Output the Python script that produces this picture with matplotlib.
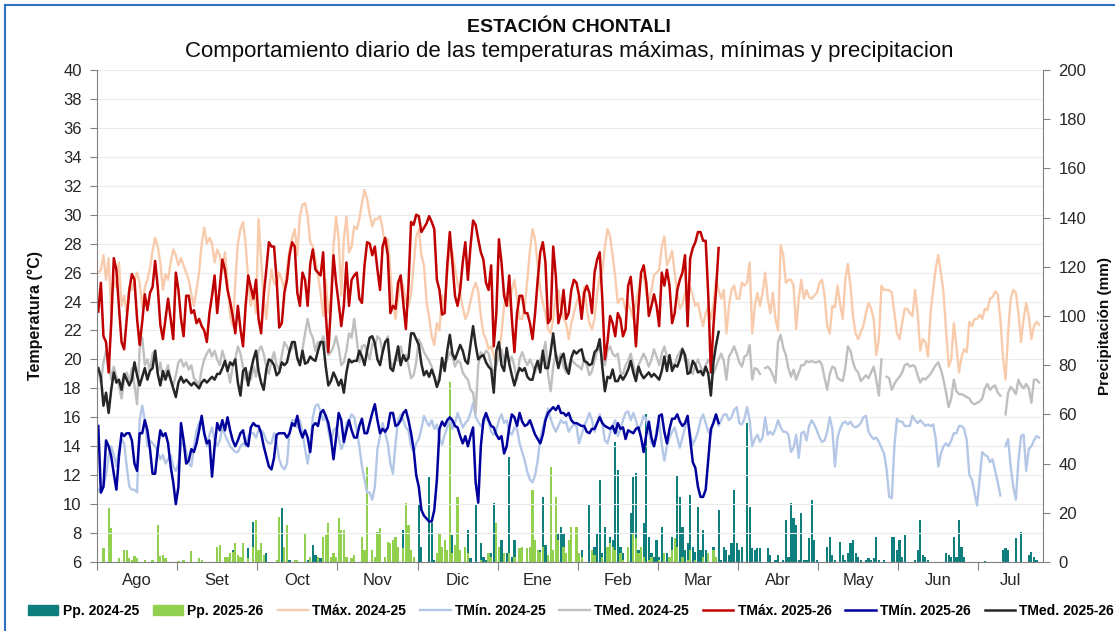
import numpy as np
import matplotlib
matplotlib.use('Agg')
import matplotlib.pyplot as plt
from matplotlib.patches import Patch, Rectangle
from matplotlib.lines import Line2D

plt.rcParams['font.family'] = ['Liberation Sans', 'DejaVu Sans']

nan = np.nan

meses = ['Ago', 'Set', 'Oct', 'Nov', 'Dic', 'Ene', 'Feb', 'Mar', 'Abr', 'May', 'Jun', 'Jul']

# temperatura maxima 2024-25 (una fila por mes del eje)
tmax_2425 = [
    26.0, 26.2, 27.2, 25.5, 27.0, 23.2, 25.5, 25.0, 26.7, 23.7, 24.4, 23.2, 25.0, 24.8, 25.5, 26.0, 25.3, 23.6, 25.0, 25.5, 26.3, 27.5, 28.4, 27.8, 26.7, 24.8, 25.9, 25.5, 26.7, 27.6, 27.2,
    26.5, 27.0, 26.5, 26.0, 25.5, 24.5, 23.7, 24.8, 26.0, 28.0, 29.1, 28.0, 28.4, 28.0, 26.7, 27.6, 27.2, 26.0, 27.4, 25.5, 23.0, 22.3, 25.3, 28.0, 29.0, 29.5, 28.0, 25.5, 23.7, 24.8, 23.2,
    29.7, 26.9, 24.2, 22.8, 24.8, 26.2, 25.3, 25.1, 26.0, 25.5, 24.8, 26.2, 27.6, 28.4, 29.0, 27.2, 29.9, 30.7, 30.8, 29.9, 28.1, 27.8, 26.9, 25.8, 24.6, 23.0, 25.5, 23.2, 24.2, 27.8, 29.9,
    28.3, 24.4, 28.3, 29.9, 27.4, 27.8, 29.2, 29.0, 29.7, 30.8, 31.7, 31.1, 30.0, 29.2, 29.7, 29.7, 29.9, 29.0, 27.8, 28.3, 26.0, 23.7, 22.8, 24.2, 25.5, 25.1, 23.9, 23.7, 24.5, 26.5, 28.5,
    29.0, 27.2, 26.5, 24.0, 22.9, 21.6, 21.0, 22.5, 22.0, 24.4, 23.7, 26.0, 27.6, 27.4, 26.3, 25.3, 24.6, 23.6, 22.8, 23.2, 24.0, 24.8, 25.3, 24.7, 23.0, 21.8, 21.4, 20.7, 20.9, 20.3, 19.6,
    20.5, 21.8, 23.7, 24.6, 23.7, 24.8, 25.5, 24.2, 22.8, 22.8, 23.7, 25.5, 27.5, 29.0, 28.3, 26.5, 24.8, 23.9, 23.2, 22.1, 21.8, 22.8, 24.4, 24.8, 23.7, 22.8, 22.5, 21.4, 22.5, 23.2, 23.9,
    24.4, 23.6, 25.0, 23.5, 22.5, 22.1, 22.8, 24.6, 25.7, 26.0, 27.8, 29.0, 28.5, 27.2, 25.7, 23.9, 24.2, 24.2, 23.4, 23.9, 23.4, 22.8, 23.9, 24.8, 25.6, 25.8, 24.6, 23.9, 24.8, 25.8, 26.0,
    26.2, 27.8, 28.5, 26.5, 26.9, 27.5, 26.0, 24.6, 23.5, 23.8, 24.6, 25.2, 25.0, 24.4, 23.7, 23.9, 23.0, 22.3, 23.2, 23.6, 22.8, 23.8, 25.5, 24.8, 24.2, 24.8, 21.8, 23.7, 24.8, 25.1, 24.2,
    24.2, 25.3, 25.1, 25.3, 26.7, 21.8, 23.7, 24.6, 23.7, 24.6, 26.0, 24.2, 23.2, 24.6, 22.8, 22.0, 27.9, 27.2, 25.3, 25.5, 25.5, 25.1, 22.1, 24.2, 25.5, 24.2, 24.8, 24.3, 24.2, 24.4, 24.6,
    25.3, 25.5, 24.4, 22.3, 21.8, 23.7, 23.6, 25.1, 23.8, 22.8, 25.5, 26.6, 25.1, 23.0, 21.8, 21.4, 21.9, 22.3, 23.2, 23.9, 23.5, 22.8, 20.3, 21.4, 25.1, 24.8, 24.8, 24.8, 24.6, 23.2, 21.8,
    21.4, 22.5, 23.5, 23.5, 23.2, 23.0, 24.8, 23.2, 20.6, 21.4, 21.2, 20.2, 23.2, 24.8, 26.3, 27.2, 26.0, 24.6, 22.1, 19.5, 20.0, 22.5, 20.9, 19.1, 20.2, 20.7, 20.5, 22.6, 22.3, 22.8, 22.8,
    23.1, 22.8, 23.5, 23.4, 24.2, 24.3, 24.7, 24.5, 22.8, 20.2, 18.6, 21.8, 24.2, 24.8, 24.6, 23.2, 21.2, 22.8, 23.9, 23.0, 21.4, 22.3, 22.6, 22.4,
]

tmin_2425 = [
    11.0, 10.8, 11.2, 12.0, 13.3, 14.0, 13.4, 12.6, 13.8, 14.5, 14.2, 12.6, 11.2, 11.0, 11.0, 10.8, 15.8, 16.8, 15.8, 14.0, 14.4, 14.2, 14.0, 13.6, 13.1, 13.4, 12.8, 13.1, 13.4, 12.6, 12.3,
    12.8, 14.0, 14.4, 13.6, 12.8, 12.6, 14.0, 15.1, 15.6, 15.8, 14.8, 14.0, 14.8, 15.3, 14.4, 14.0, 14.4, 15.3, 14.8, 14.4, 14.0, 13.8, 13.6, 13.6, 14.0, 14.2, 14.0, 14.7, 14.9, 14.9, 14.6,
    15.1, 15.1, 14.9, 14.4, 14.2, 14.2, 14.9, 14.2, 13.1, 12.6, 12.4, 12.8, 15.0, 15.8, 15.8, 15.3, 15.8, 14.9, 13.8, 12.8, 14.0, 16.0, 16.8, 16.9, 16.4, 15.8, 16.2, 15.1, 14.2, 15.1, 15.3,
    14.6, 13.8, 14.2, 15.6, 15.8, 16.2, 16.0, 15.1, 14.0, 12.6, 11.7, 10.8, 10.8, 10.3, 11.2, 13.8, 14.7, 15.6, 14.9, 14.2, 12.8, 12.1, 14.2, 15.8, 16.2, 15.8, 15.3, 15.1, 14.0, 13.6, 14.2,
    14.5, 15.2, 16.1, 15.7, 15.4, 15.8, 15.2, 15.5, 14.5, 14.1, 14.8, 15.3, 15.9, 15.2, 15.6, 16.3, 15.8, 15.3, 15.6, 15.8, 16.3, 17.0, 16.0, 15.7, 15.4, 15.6, 16.0, 15.7, 15.0, 14.8, 15.1,
    15.8, 16.2, 15.6, 15.8, 15.0, 14.8, 15.3, 15.2, 14.2, 13.6, 13.0, 12.2, 11.7, 11.5, 12.0, 13.0, 14.6, 15.3, 16.0, 16.6, 15.9, 15.4, 15.0, 15.4, 15.8, 15.6, 15.7, 15.0, 15.3, 15.5, 15.4,
    14.2, 14.8, 15.4, 15.8, 16.3, 15.8, 15.0, 15.6, 16.2, 15.6, 14.4, 14.2, 14.9, 15.4, 15.8, 14.7, 15.2, 15.8, 16.3, 16.4, 15.8, 16.3, 15.8, 15.1, 15.5, 16.1, 15.8, 15.0, 14.2, 14.0, 15.2,
    15.7, 14.1, 13.0, 14.0, 14.6, 15.0, 15.3, 14.6, 13.9, 14.6, 15.3, 15.8, 14.9, 14.1, 14.5, 15.0, 15.8, 16.2, 15.6, 15.0, 14.8, 15.8, 16.2, 15.4, 15.8, 16.2, 16.2, 15.8, 16.0, 16.5, 16.7,
    15.6, 15.5, 15.9, 16.7, 15.8, 14.0, 14.5, 14.8, 14.3, 14.6, 16.0, 14.8, 15.0, 14.8, 15.2, 15.8, 15.3, 15.0, 15.0, 14.8, 13.6, 13.9, 14.8, 13.2, 14.9, 15.0, 14.4, 15.4, 15.8, 15.5, 15.1,
    14.6, 14.3, 14.4, 15.0, 16.0, 15.2, 12.6, 14.6, 15.2, 15.6, 15.7, 15.5, 15.7, 15.4, 15.3, 15.4, 15.6, 16.0, 16.1, 15.0, 14.7, 14.5, 14.6, 14.3, 13.9, 13.5, 12.4, 10.5, 10.4, 14.0, 15.9,
    15.7, 15.7, 15.4, 15.4, 15.4, 16.1, 15.8, 15.6, 15.8, 15.6, 15.4, 15.5, 15.4, 15.5, 14.5, 12.6, 13.5, 14.0, 14.2, 14.0, 14.4, 14.9, 14.9, 15.4, 15.4, 15.2, 14.4, 12.0, 11.7, 10.8, 9.9,
    11.8, 13.6, 13.4, 13.3, 12.9, 13.1, 12.3, 11.5, 10.6, nan, 14.0, 14.5, 12.6, 11.2, 10.3, 13.0, 14.7, 14.8, 12.3, 13.8, 14.0, 14.4, 14.7, 14.6,
]

tmed_2425 = [
    19.1, 18.4, 19.8, 20.6, 20.0, 18.6, 19.5, 18.8, 18.2, 17.3, 18.6, 19.1, 18.4, 19.4, 18.2, 16.9, 20.7, 21.5, 19.6, 20.0, 19.2, 20.4, 20.6, 19.1, 19.8, 18.6, 19.1, 19.6, 18.6, 18.2, 18.9,
    19.8, 20.0, 19.5, 19.8, 19.3, 19.6, 18.7, 18.5, 18.2, 19.3, 20.0, 20.4, 20.7, 20.2, 20.6, 20.0, 19.6, 20.6, 20.0, 19.3, 18.4, 19.5, 20.0, 20.9, 20.4, 19.5, 18.6, 19.1, 18.6, 19.5, 18.8,
    20.6, 20.9, 20.4, 19.5, 19.0, 19.9, 20.5, 19.6, 19.3, 20.3, 21.2, 20.9, 20.5, 20.8, 21.1, 20.0, 19.6, 20.7, 21.8, 22.8, 21.9, 21.5, 20.6, 21.2, 21.0, 21.6, 21.0, 20.3, 20.5, 20.9, 21.6,
    20.8, 19.6, 19.8, 20.6, 21.8, 21.5, 22.8, 21.4, 19.8, 20.9, 21.0, 20.5, 20.0, 21.1, 20.9, 21.6, 21.4, 20.5, 21.2, 21.6, 19.9, 19.4, 20.2, 19.9, 20.9, 20.2, 20.3, 19.6, 18.7, 18.9, 19.8,
    21.4, 21.0, 20.5, 20.2, 19.9, 19.5, 18.8, 18.2, 18.9, 19.5, 19.6, 20.0, 20.5, 20.2, 19.5, 19.9, 19.8, 19.1, 18.8, 18.6, 17.9, 17.7, 16.3, 19.6, 20.5, 20.2, 20.6, 20.4, 19.6, 19.0, 19.6,
    20.2, 20.7, 19.8, 20.4, 19.8, 20.2, 19.5, 18.6, 20.0, 20.5, 20.0, 19.6, 20.0, 19.6, 19.1, 19.6, 20.0, 20.4, 21.2, 19.0, 17.8, 19.5, 20.4, 20.0, 20.4, 19.5, 19.1, 19.6, 20.0, 19.8, 19.6,
    19.5, 19.3, 20.1, 19.6, 18.9, 19.2, 19.9, 20.6, 20.7, 20.2, 19.6, 20.6, 20.9, 20.4, 20.2, 20.4, 19.1, 19.0, 19.6, 19.9, 20.4, 19.6, 19.0, 19.6, 20.0, 20.4, 20.0, 19.5, 20.0, 20.7, 20.2,
    19.6, 20.4, 20.9, 20.2, 20.1, 19.7, 19.6, 20.2, 20.5, 20.8, 19.9, 20.0, 19.2, 19.0, 19.6, 20.0, 19.5, 19.1, 19.6, 20.0, 19.6, 19.0, 19.5, 20.0, 20.4, 19.9, 18.6, 20.2, 20.5, 20.9, 20.4,
    19.8, 19.5, 20.2, 20.3, 21.0, 18.6, 19.4, 19.3, 19.0, nan, 19.4, 19.5, 19.3, 18.9, 18.4, 21.2, 21.7, 20.8, 20.3, 19.4, 18.8, 19.3, 18.6, 19.1, 19.6, 19.6, 19.9, 19.8, 19.9, 19.8, 19.8,
    19.9, 19.6, 18.7, 17.9, 19.0, 19.5, 19.4, 18.7, 18.6, 18.5, 19.4, 20.9, 20.6, 19.8, 19.3, 19.1, 18.5, 18.7, 18.9, 18.7, 19.1, 19.5, 18.6, 17.5, 20.0, nan, 18.8, 18.7, 17.9, 18.3, 18.6,
    18.8, 19.1, 19.6, 19.7, 19.5, 19.6, 19.5, 18.9, 18.4, 18.7, 18.6, 18.8, 19.0, 19.3, 19.6, 19.8, 19.3, 18.6, 17.7, 16.7, 17.3, 18.6, 17.8, 17.6, 17.6, 17.5, 17.4, 17.3, 17.0, 16.9, 17.0,
    17.1, 17.3, 18.0, 18.3, 17.9, 18.1, 18.2, 17.7, 17.5, nan, 16.2, 17.7, 18.1, 17.9, 17.6, 18.6, 18.2, 18.0, 18.3, 18.0, 17.0, 18.6, 18.6, 18.4,
]

tmax_2526 = [
    23.3, 25.3, 21.6, 21.2, 19.1, 22.5, 27.0, 26.2, 23.6, 21.2, 20.7, 22.8, 24.8, 25.9, 25.5, 22.8, 21.0, 22.6, 24.5, 23.4, 24.6, 25.0, 26.8, 25.0, 22.4, 21.4, 22.8, 24.2, 22.8, 21.4, 26.0,
    24.8, 22.8, 21.6, 24.4, 24.4, 23.2, 23.4, 22.5, 22.8, 22.3, 22.0, 21.2, 23.2, 24.4, 25.8, 23.2, 25.0, 26.9, 26.2, 24.8, 24.0, 23.0, 21.8, 23.7, 22.1, 20.9, 23.7, 25.8, 25.0, 24.2, 25.5,
    22.8, 21.8, 24.4, 26.2, 28.1, 27.8, 27.8, 25.5, 22.2, 22.5, 24.6, 25.5, 27.2, 28.1, 27.8, 24.6, 23.7, 26.0, 25.5, 23.7, 26.6, 27.6, 26.2, 26.0, 25.8, 27.4, 23.2, 20.5, 23.7, 27.2, 25.3,
    23.9, 22.3, 23.7, 26.7, 23.7, 25.5, 25.8, 26.0, 24.2, 23.9, 26.5, 28.1, 28.0, 27.2, 27.8, 26.2, 24.8, 27.8, 28.4, 27.2, 23.2, 23.7, 23.5, 25.3, 25.8, 23.9, 22.1, 25.1, 29.5, 29.3, 30.0,
    29.9, 28.8, 29.1, 29.4, 29.9, 29.5, 29.0, 25.5, 24.8, 23.1, 23.2, 26.5, 28.8, 26.7, 24.4, 23.7, 24.8, 26.7, 28.1, 25.5, 27.8, 29.6, 29.3, 28.3, 27.4, 26.9, 25.3, 24.8, 26.5, 20.9, 23.2,
    28.3, 26.7, 24.4, 23.7, 25.8, 22.8, 20.5, 23.2, 24.4, 24.4, 23.2, 23.2, 22.5, 21.4, 23.2, 25.5, 27.4, 28.1, 26.7, 22.5, 22.8, 27.8, 25.8, 22.5, 23.2, 24.8, 22.8, 23.2, 24.8, 25.5, 25.3,
    24.4, 22.8, 24.6, 25.1, 24.6, 23.2, 26.0, 26.9, 27.4, 24.2, 20.0, 21.2, 23.0, 22.5, 21.6, 23.2, 22.8, 21.6, 22.1, 25.1, 25.7, 23.7, 20.9, 23.7, 26.0, 26.5, 25.3, 23.0, 23.7, 24.5, 23.7,
    22.3, 26.0, 25.1, 26.2, 25.1, 22.5, 23.2, 24.8, 25.5, 26.0, 27.2, 22.3, 27.0, 27.7, 28.1, 28.8, 28.8, 28.2, 28.2, 24.4, 19.1, 22.3, 24.8, 27.7,
]

tmin_2526 = [
    15.4, 10.8, 11.2, 14.4, 14.0, 13.3, 12.1, 11.0, 13.3, 14.9, 14.7, 14.9, 14.9, 14.4, 12.8, 12.3, 14.9, 14.9, 15.8, 15.1, 13.8, 12.1, 12.1, 13.8, 15.1, 14.7, 14.9, 14.2, 12.6, 11.5, 10.0,
    11.2, 15.6, 14.4, 12.8, 13.0, 13.8, 13.6, 14.2, 15.1, 16.1, 14.9, 14.2, 14.4, 11.9, 14.0, 15.6, 15.1, 15.8, 15.1, 16.0, 15.1, 14.4, 14.0, 14.4, 14.9, 15.1, 14.2, 14.0, 15.3, 15.6, 15.4,
    15.4, 14.9, 14.0, 13.3, 12.6, 12.4, 13.2, 14.8, 14.9, 14.9, 14.9, 14.6, 14.9, 15.6, 15.4, 16.1, 15.1, 14.6, 15.1, 14.6, 13.6, 15.4, 15.6, 15.4, 16.3, 16.5, 16.1, 15.6, 14.6, 13.1, 14.6,
    16.3, 15.8, 14.3, 15.1, 15.8, 15.1, 14.6, 14.6, 15.4, 15.9, 14.9, 14.9, 15.6, 16.3, 16.9, 15.8, 14.9, 15.2, 15.0, 15.3, 16.3, 16.3, 15.4, 15.5, 15.8, 16.3, 16.5, 15.8, 14.9, 13.8, 12.0,
    11.2, 9.6, 9.2, 9.0, 8.8, 8.8, 9.6, 11.7, 15.2, 15.7, 15.4, 15.8, 16.0, 15.8, 15.4, 15.3, 14.7, 14.2, 14.7, 14.0, 14.7, 15.3, 11.5, 10.1, 14.0, 15.8, 16.3, 15.8, 15.4, 15.3, 14.8,
    14.5, 14.7, 13.5, 14.0, 15.3, 16.2, 16.0, 15.4, 16.3, 15.7, 15.4, 15.5, 15.8, 15.3, 14.8, 14.5, 14.2, 14.8, 15.8, 16.3, 16.5, 16.7, 16.5, 16.8, 16.3, 16.3, 16.1, 16.3, 15.8, 15.6, 15.6,
    15.5, 15.4, 15.4, 15.0, 14.9, 15.2, 15.2, 15.6, 16.0, 15.6, 15.4, 15.3, 15.2, 15.4, 14.9, 15.6, 15.2, 15.3, 14.5, 15.1, 15.0, 14.9, 15.2, 15.3, 14.6, 13.6, 14.8, 15.7, 14.6, 14.0, 14.8,
    16.1, 16.2, 15.0, 14.2, 15.2, 15.9, 15.9, 16.2, 15.7, 15.4, 15.6, 16.1, 14.5, 12.9, 12.5, 11.2, 10.5, 10.5, 11.0, 13.1, 15.2, 15.6, 16.2, 15.6,
]

tmed_2526 = [
    19.4, 18.8, 16.8, 17.7, 16.3, 17.9, 19.1, 18.4, 18.6, 17.9, 19.0, 18.6, 18.2, 18.6, 19.8, 18.9, 18.2, 18.8, 19.4, 18.6, 19.2, 19.4, 20.6, 19.0, 18.2, 19.2, 18.6, 19.2, 18.6, 18.0, 17.4,
    18.4, 18.8, 18.4, 18.6, 18.4, 18.2, 18.4, 18.2, 18.0, 18.4, 18.6, 18.4, 18.6, 18.8, 18.6, 19.0, 19.0, 19.4, 19.9, 19.2, 19.8, 19.6, 20.0, 18.4, 17.5, 19.2, 19.4, 18.2, 19.2, 20.0, 20.6,
    19.2, 18.4, 17.9, 19.3, 20.0, 19.9, 19.6, 18.9, 19.1, 19.8, 19.6, 19.8, 20.6, 21.2, 21.2, 20.1, 19.6, 20.6, 19.7, 19.8, 20.2, 20.0, 19.9, 20.6, 21.2, 21.2, 19.5, 18.2, 18.5, 19.1, 18.7,
    18.2, 18.6, 17.7, 19.1, 20.0, 19.8, 19.9, 19.9, 20.6, 20.2, 19.6, 20.6, 21.5, 21.6, 21.1, 20.0, 19.6, 20.5, 21.2, 21.4, 19.4, 19.2, 20.0, 20.9, 19.6, 20.3, 19.9, 20.1, 21.8, 21.8, 21.4,
    21.0, 19.7, 18.9, 19.2, 18.8, 19.3, 18.8, 18.1, 18.6, 20.1, 19.2, 20.6, 21.7, 20.4, 20.0, 20.5, 21.0, 20.6, 19.9, 19.7, 21.0, 22.3, 21.0, 20.0, 20.2, 20.3, 19.8, 19.5, 19.3, 17.7, 20.6,
    21.2, 19.6, 19.2, 20.8, 19.7, 18.9, 18.2, 18.9, 19.4, 19.2, 19.4, 18.8, 18.6, 18.6, 19.4, 19.9, 19.1, 20.6, 19.4, 19.4, 20.5, 21.8, 20.3, 19.4, 20.1, 20.4, 19.4, 19.0, 20.1, 20.6, 20.4,
    20.6, 20.7, 19.9, 19.8, 19.6, 19.7, 20.5, 20.7, 21.4, 19.5, 17.8, 18.8, 18.7, 19.3, 18.5, 18.5, 18.9, 18.6, 18.9, 19.3, 19.9, 19.1, 18.5, 19.5, 19.0, 18.7, 18.9, 19.1, 18.8, 19.0, 18.8,
    18.6, 19.2, 20.2, 19.2, 20.3, 19.2, 19.6, 19.5, 20.0, 20.7, 20.3, 19.0, 19.1, 19.9, 19.6, 19.1, 19.2, 18.9, 19.5, 19.0, 17.5, 19.8, 21.0, 21.9,
]

# precipitacion diaria (mm)
pp_2425 = [
    0, 0, 0, 0, 0, 0, 0, 0, 0, 0, 0, 1.5, 0, 0, 0, 0, 0, 0, 0, 0, 0, 0, 0, 0, 0, 0, 0, 0, 0, 0, 0,
    0, 0, 0, 0, 0, 0, 0, 0, 0, 0, 0, 0, 0, 0, 0, 3.8, 0, 0, 0, 0, 0, 4.9, 0, 0, 0, 0, 0, 5.5, 0, 16.4, 0,
    2.8, 6.2, 0, 3.5, 0, 0, 0, 0, 0, 21.8, 4.9, 0, 0.8, 0, 0, 0, 0, 0, 0, 0.8, 0, 6.9, 2.8, 0, 1.5, 0, 0, 0, 0, 0, 0,
    0, 0.8, 0, 0, 0, 0, 0, 0, 0, 0, 0, 0, 0, 0, 0, 0, 0, 0, 2.2, 0, 0, 0, 0, 3.5, 0, 13.0, 15.7, 0, 1.5, 0, 0,
    23.2, 6.0, 0, 0, 34.7, 15.7, 0.8, 0, 3.5, 6.2, 0, 0.8, 0, 11.0, 3.5, 6.2, 0, 0, 0, 13.0, 1.5, 0, 23.2, 0, 7.6, 2.2, 0.8, 2.2, 3.5, 23.8, 15.7,
    2.2, 8.9, 0, 3.5, 42.8, 2.2, 8.9, 0, 2.2, 4.9, 0, 2.2, 6.2, 0, 2.2, 0, 4.9, 26.6, 6.9, 0, 2.2, 2.2, 4.9, 11.7, 14.4, 11.7, 0, 6.2, 2.2, 0, 4.9,
    2.2, 4.9, 0, 0, 23.2, 0, 6.2, 11.7, 33.3, 3.5, 14.4, 6.2, 10.3, 8.9, 48.9, 37.4, 6.2, 3.5, 0, 4.9, 19.8, 34.7, 36.0, 4.9, 3.5, 15.7, 60.0, 10.3, 3.5, 2.2, 8.9,
    2.2, 14.4, 3.5, 3.5, 0, 10.3, 8.9, 35.4, 26.6, 14.4, 4.9, 7.6, 27.2, 6.2, 4.2, 22.5, 4.9, 13.0, 4.9, 3.5, 0, 6.2, 2.2, 21.1, 0.8, 6.2, 4.9, 2.8, 7.6, 29.3, 7.6,
    4.9, 6.2, 0, 56.4, 22.5, 5.5, 4.9, 5.5, 5.5, 0, 0, 5.5, 2.8, 0, 0.8, 2.8, 0, 0.8, 17.0, 2.2, 23.8, 17.7, 15.0, 0.8, 19.8, 0.8, 0.8, 9.6, 25.2, 8.9, 0.8,
    0, 0, 0, 6.2, 10.3, 2.8, 0.8, 0, 8.3, 2.8, 0.8, 3.5, 7.6, 8.9, 3.5, 2.2, 0.8, 0, 0.8, 1.5, 0.8, 1.5, 10.3, 0.8, 0, 0.8, 0, 0, 10.3, 10.3, 4.9,
    8.9, 2.2, 11.0, 0, 0, 0, 0.8, 4.9, 17.0, 2.8, 2.2, 0.8, 0, 0, 0, 0, 0, 0, 3.5, 2.8, 2.2, 10.3, 2.2, 17.0, 6.2, 2.2, 0, 0, 0, 0, 0,
    0, 0, 0.4, 0, 0, 0, 0, 0, 0, 4.9, 5.5, 4.9, 0, 0, 9.6, 0, 12.3, 0, 0, 2.8, 4.2, 2.2, 0.8, 0,
]

pp_2526 = [
    0, 0, 5.5, 0, 21.8, 13.7, 0, 0, 1.5, 0, 5.0, 4.8, 1.5, 0.8, 2.4, 1.5, 0, 0, 1.0, 0, 0, 0.8, 0, 15.0, 2.4, 2.8, 1.5, 0, 0, 0, 0,
    0.5, 0, 0.8, 0, 0, 4.6, 0, 0, 1.5, 0.8, 0, 0, 0, 0, 0, 6.0, 7.0, 0, 2.0, 2.0, 3.5, 4.2, 7.6, 3.0, 2.0, 7.6, 0, 1.5, 0, 6.0, 17.0,
    4.9, 7.6, 2.8, 0, 0, 0, 0, 0.8, 18.4, 0, 6.2, 15.0, 0, 0, 0.8, 0.8, 0, 0, 11.7, 0, 2.2, 0, 0, 2.2, 0, 10.3, 11.0, 15.7, 2.2, 3.5, 2.2,
    17.7, 13.0, 13.0, 2.2, 0, 1.5, 2.8, 0, 0, 10.3, 4.9, 38.8, 0, 4.9, 2.2, 12.3, 13.7, 0, 2.2, 8.3, 7.6, 8.9, 10.3, 6.2, 0, 5.5, 23.8, 15.0, 4.9, 2.2, 0,
    0, 0, 0, 0, 0, 0, 0, 3.5, 11.7, 6.2, 8.9, 4.9, 73.3, 3.5, 6.9, 26.6, 4.9, 0, 6.2, 3.5, 0, 0, 0, 0, 0.8, 0, 0, 3.5, 2.2, 0, 15.7,
    6.2, 0, 3.5, 0, 3.5, 0, 2.2, 0, 5.5, 6.2, 0, 5.5, 6.2, 29.3, 8.9, 4.9, 4.2, 6.2, 0, 2.8, 38.8, 4.9, 26.6, 8.9, 0, 6.2, 3.5, 8.9, 14.4, 0, 14.4,
    3.5, 2.2, 0, 0, 0, 4.9, 2.8, 0, 0, 2.2, 0, 6.2, 7.6, 6.2, 4.9, 0, 3.5, 0.8, 0, 6.2, 0, 11.7, 9.6, 3.5, 6.2, 2.2, 0, 0.8, 2.2, 0, 0,
    0.8, 0, 3.5, 0, 2.2, 4.9, 9.6, 6.2, 0, 2.2, 0, 0.8, 4.9, 0, 0.8, 0, 0, 2.2, 0, 3.5, 0, 4.9, 2.2, 0,
]

W, H = 1115, 631
fig = plt.figure(figsize=(W / 100, H / 100), dpi=100)
fig.patch.set_facecolor('white')

ax = fig.add_axes([97 / W, 1 - 562 / H, 946 / W, 492 / H])
ax2 = ax.twinx()
ax.set_zorder(ax2.get_zorder() + 1)
ax.patch.set_visible(False)

c_teal = '#0E7F7C'
c_green = '#92D050'
c_peach = '#F8CBAD'
c_lblue = '#B4C7E7'
c_gray = '#BFBFBF'
c_red = '#C00000'
c_dblue = '#00009C'
c_black = '#262626'

ax2.bar(np.arange(len(pp_2425)), pp_2425, width=0.85, color=c_teal, linewidth=0)
ax2.bar(np.arange(len(pp_2526)), pp_2526, width=0.85, color=c_green, linewidth=0)

ax.plot(np.arange(len(tmax_2425)), tmax_2425, color=c_peach, lw=1.7)
ax.plot(np.arange(len(tmin_2425)), tmin_2425, color=c_lblue, lw=1.7)
ax.plot(np.arange(len(tmed_2425)), tmed_2425, color=c_gray, lw=1.7)
ax.plot(np.arange(len(tmax_2526)), tmax_2526, color=c_red, lw=1.8)
ax.plot(np.arange(len(tmin_2526)), tmin_2526, color=c_dblue, lw=1.8)
ax.plot(np.arange(len(tmed_2526)), tmed_2526, color=c_black, lw=1.8)

ax.set_xlim(-0.5, 365.5)
ax.set_ylim(6, 40)
ax.set_yticks(range(6, 41, 2))
ax2.set_ylim(0, 200)
ax2.set_yticks(range(0, 201, 20))
ax.grid(axis='y', color='#EBEBEB', lw=0.8)

# meses: marcas cada 31 dias, etiqueta al centro
ax.set_xticks([-0.5 + 31 * k for k in range(12)])
ax.set_xticklabels([])
centros = [15 + 31 * k for k in range(11)] + [353]
ax.set_xticks(centros, minor=True)
ax.set_xticklabels(meses, minor=True)
ax.tick_params(axis='x', which='major', length=6, color='#808080', width=0.8)
ax.tick_params(axis='x', which='minor', length=0, pad=8, labelsize=12, labelcolor='#262626')
ax.tick_params(axis='y', length=5, color='#808080', width=0.8, labelsize=12, labelcolor='#262626', pad=6)
ax2.tick_params(axis='y', length=5, color='#808080', width=0.8, labelsize=12, labelcolor='#262626', pad=6)

for s in ['top', 'right']:
    ax.spines[s].set_visible(False)
for s in ['top', 'left', 'bottom']:
    ax2.spines[s].set_visible(False)
ax.spines['left'].set_color('#808080')
ax.spines['bottom'].set_color('#808080')
ax2.spines['right'].set_color('#808080')

fig.text(569 / W, 1 - 27 / H, 'ESTACIÓN CHONTALI', ha='center', va='center',
         fontsize=14, fontweight='bold', color='#0D0D0D')
fig.text(569 / W, 1 - 52 / H, 'Comportamiento diario de las temperaturas máximas, mínimas y precipitacion',
         ha='center', va='center', fontsize=16, color='#0D0D0D')
fig.text(35 / W, 1 - 316 / H, 'Temperatura (°C)', rotation=90, ha='center', va='center',
         fontsize=11.5, fontweight='bold', color='#0D0D0D')
fig.text(1105 / W, 1 - 326 / H, 'Precipitación (mm)', rotation=90, ha='center', va='center',
         fontsize=11, fontweight='bold', color='#0D0D0D')

handles = [
    Patch(color=c_teal), Patch(color=c_green),
    Line2D([], [], color=c_peach, lw=1.7), Line2D([], [], color=c_lblue, lw=1.7),
    Line2D([], [], color=c_gray, lw=1.7), Line2D([], [], color=c_red, lw=1.8),
    Line2D([], [], color=c_dblue, lw=1.8), Line2D([], [], color=c_black, lw=1.8),
]
labels = ['Pp. 2024-25', 'Pp. 2025-26', 'TMáx. 2024-25', 'TMín. 2024-25', 'TMed. 2024-25',
          'TMáx. 2025-26', 'TMín. 2025-26', 'TMed. 2025-26']
fig.legend(handles, labels, loc='center', bbox_to_anchor=(571 / W, 1 - 611 / H), ncol=8,
           frameon=False, handlelength=2.2, handletextpad=0.3, columnspacing=1.0,
           prop={'size': 10, 'weight': 'bold'})

# marco azul del grafico
fig.patches.append(Rectangle((5 / W, -0.05), 1.2, 1.05 - 5 / H, transform=fig.transFigure,
                             fill=False, edgecolor='#2E6FC0', lw=1.5))

fig.savefig('out.png', dpi=100)
